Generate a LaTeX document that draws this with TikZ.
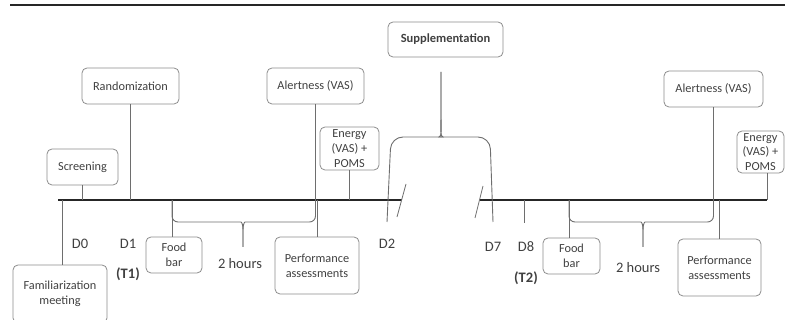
\documentclass[tikz,border=0pt]{standalone}
\usepackage{fontspec}
\setmainfont{Carlito}
\usetikzlibrary{calc}
\definecolor{boxgray}{HTML}{8C8C8C}
\definecolor{txtgray}{HTML}{404040}
\definecolor{linegray}{HTML}{6E6E6E}

\begin{document}
\begin{tikzpicture}[x=1pt,y=-1pt,
  box/.style={draw=boxgray,rounded corners=5pt,line width=0.8pt,text=txtgray,align=center,inner sep=1pt,font=\fontsize{12.3}{14.8}\selectfont},
  lbl/.style={text=txtgray,font=\fontsize{14.5}{16}\selectfont},
  conn/.style={draw=linegray,line width=0.8pt},
  brc/.style={draw=linegray,line width=0.9pt,rounded corners=6pt},
  timeline/.style={draw=black!85,line width=1.8pt}]

\useasboundingbox (0,0) rectangle (785,320);
\draw[line width=2.4pt,black!85] (10,5) -- (785,5);

% boxes above the timeline
\node[box,minimum width=71,minimum height=36] (scr) at (82.5,167) {Screening};
\node[box,minimum width=97,minimum height=36] (rand) at (130.5,86) {Randomization};
\node[box,minimum width=97,minimum height=36] (alert1) at (315.5,86) {Alertness (VAS)};
\node[box,minimum width=59,minimum height=43] (en1) at (349.5,148.5) {Energy\\(VAS) +\\POMS};
\node[box,minimum width=115,minimum height=35,font=\fontsize{12.5}{14}\selectfont\bfseries] (supp) at (445.5,39.5) {Supplementation};
\node[box,minimum width=99,minimum height=36] (alert2) at (713.5,89) {Alertness (VAS)};
\node[box,minimum width=47,minimum height=42] (en2) at (760.5,152) {Energy\\(VAS) +\\POMS};

% boxes below the timeline
\node[box,minimum width=94,minimum height=58] (fam) at (60,294) {Familiarization\\meeting};
\node[box,minimum width=56,minimum height=36] (food1) at (174,255) {Food\\bar};
\node[box,minimum width=84,minimum height=57] (perf1) at (317,265.5) {Performance\\assessments};
\node[box,minimum width=57,minimum height=36] (food2) at (571.5,256) {Food\\bar};
\node[box,minimum width=83,minimum height=57] (perf2) at (719.5,267.5) {Performance\\assessments};

% day labels
\node[lbl] (d0) at (80,244) {D0};
\node[lbl] (d1) at (128,244) {D1};
\node[lbl,font=\fontsize{14.5}{16}\selectfont\bfseries] (t1) at (128,274) {(T1)};
\node[lbl] (h1) at (240,264) {2 hours};
\node[lbl] (d2) at (387,244) {D2};
\node[lbl] (d7) at (493,247) {D7};
\node[lbl] (d8) at (526,247) {D8};
\node[lbl,font=\fontsize{14.5}{16}\selectfont\bfseries] (t2) at (526,278) {(T2)};
\node[lbl] (h2) at (638,268) {2 hours};

% timeline
\coordinate (tlA) at (58,200);
\coordinate (tlB) at (402,200);
\coordinate (tlC) at (480,200);
\coordinate (tlD) at (767,200);
\draw[timeline] (tlA) -- (tlB);
\draw[timeline] (tlC) -- (tlD);
\draw[conn] (397,217) -- (406,184);
\draw[conn] (475,218) -- (483,186);

\draw[conn] (scr.south) -- (scr.south |- tlA);
\draw[conn] (rand.south) -- (rand.south |- tlA);
\draw[conn] (alert1.south) -- (alert1.south |- tlA);
\draw[conn] (en1.south) -- (en1.south |- tlA);
\draw[conn] ([xshift=2]fam.north) -- ([xshift=2]fam.north |- tlA);
\draw[conn] ([xshift=-2]food1.north) -- ([xshift=-2]food1.north |- tlA);
\draw[conn] (perf1.north) -- (perf1.north |- tlA);
\draw[conn] ([xshift=-2.5]food2.north) -- ([xshift=-2.5]food2.north |- tlC);
\draw[conn] (alert2.south) -- (alert2.south |- tlC);
\draw[conn] (perf2.north) -- (perf2.north |- tlC);
\draw[conn] ([xshift=6.5]en2.south) -- ([xshift=6.5]en2.south |- tlC);
\coordinate (d8tick) at (524,223);
\draw[conn] (d8tick |- tlC) -- (d8tick);

% braces
\draw[brc] (243,247) -- (243,236) .. controls (243,226) and (242,222) .. (235,222) -- (172,222) -- (172,200);
\draw[brc] (243,247) -- (243,236) .. controls (243,226) and (244,222) .. (251,222) -- (315.5,222) -- (315.5,200);
\draw[brc] (643,247) -- (643,236) .. controls (643,226) and (642,222) .. (635,222) -- (569,222) -- (569,200);
\draw[brc] (643,247) -- (643,236) .. controls (643,226) and (644,222) .. (651,222) -- (713.5,222) -- (713.5,200);
\draw[brc,rounded corners=12pt] (441,72) -- (441,102) .. controls (441,128) and (440,137) .. (431,137) -- (391,137) -- (387,222);
\draw[brc,rounded corners=12pt] (441,72) -- (441,102) .. controls (441,128) and (442,137) .. (451,137) -- (490,137) -- (493,222);

\end{tikzpicture}
\end{document}
